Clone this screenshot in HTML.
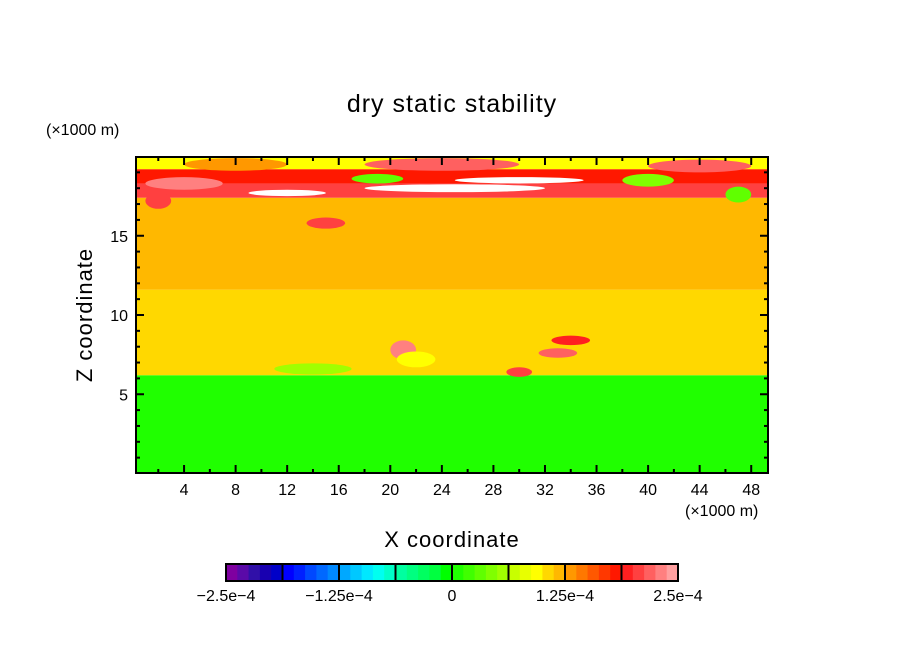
<!DOCTYPE html>
<html><head><meta charset="utf-8"><style>
body{margin:0;background:#fff;font-family:"Liberation Sans",sans-serif}
svg text{font-family:"Liberation Sans",sans-serif;fill:#000}
</style></head><body>
<svg id="chart" width="904" height="654" xmlns="http://www.w3.org/2000/svg">
<rect width="904" height="654" fill="#fff"/>
<text x="452" y="112" font-size="25" text-anchor="middle" letter-spacing="1">dry static stability</text>
<text x="46" y="135" font-size="16">(×1000 m)</text>
<text x="685" y="516" font-size="16">(×1000 m)</text>
<text x="452" y="547" font-size="22" text-anchor="middle" letter-spacing="1">X coordinate</text>
<text transform="translate(92,315) rotate(-90)" font-size="22" text-anchor="middle" letter-spacing="1">Z coordinate</text>
<g id="plot"></g>
<g id="cbar"></g>
</svg>
<script>
const colors=["#7F00A0","#5A0AA8","#3010A8","#1800B0","#0000C8","#0000FF","#0020FF","#0048FF","#0068FF","#0088FF","#00A8FF","#00C8FF","#00E8FF","#00FFF0","#00FFC8","#00FFA0","#00FF80","#00FF60","#00FF40","#00FF00","#20FF00","#40FF00","#60FF00","#80FF00","#A0FF00","#C8FF00","#E8FF00","#FFFF00","#FFD800","#FFB800","#FF9800","#FF7800","#FF5800","#FF3800","#FF1800","#FF2020","#FF4040","#FF6060","#FF8080","#FFA0A0"];
const cbarLabels=["-2.5e-4","-1.25e-4","0","1.25e-4","2.5e-4"];
const cbarTickValues=[-2.5e-4,-1.25e-4,0,1.25e-4,2.5e-4];
const xTicks=[4,8,12,16,20,24,28,32,36,40,44,48];
const yTicks=[5,10,15];
// layers: [zBottom, zTop, value]
const layerBottom=[0,6.2,11.6,17.4,18.3,19.2];
const layerTop=[6.2,11.6,17.4,18.3,19.2,20];
const layerValue=[0.06e-4,1.06e-4,1.19e-4,2.06e-4,1.81e-4,0.94e-4];
// features: [xCenter, zCenter, halfWidth(km), halfHeight(km), value]
const blobX=[25,12,30,4,15,21,22,30,33,34,19,40,47,2,14,24,44,8];
const blobZ=[18.0,17.7,18.5,18.3,15.8,7.8,7.2,6.4,7.6,8.4,18.6,18.5,17.6,17.2,6.6,19.5,19.4,19.5];
const blobW=[7,3,5,3,1.5,1,1.5,1,1.5,1.5,2,2,1,1,3,6,4,4];
const blobH=[0.25,0.2,0.2,0.4,0.35,0.6,0.5,0.3,0.3,0.3,0.3,0.4,0.5,0.5,0.35,0.4,0.4,0.4];
const blobV=[2.6e-4,2.6e-4,2.6e-4,2.3e-4,2.1e-4,2.3e-4,0.9e-4,2.1e-4,2.2e-4,1.9e-4,0.3e-4,0.4e-4,0.3e-4,2.1e-4,0.6e-4,2.2e-4,2.2e-4,1.3e-4];

const X0=136,X1=768,Y0=473,Y1=157;
const xs=v=>132.5+v*12.89;
const ys=v=>473.5-v*15.85;
const zmin=-2.5e-4,zmax=2.5e-4;
function col(v){if(v>2.5e-4)return "#FFFFFF";let i=Math.floor((v-zmin)/(zmax-zmin)*40);i=Math.max(0,Math.min(39,i));return colors[i];}
const NS="http://www.w3.org/2000/svg";
function mk(t,a,p){const e=document.createElementNS(NS,t);for(const k in a)e.setAttribute(k,a[k]);p.appendChild(e);return e;}
const plot=document.getElementById('plot');
const cp=mk('clipPath',{id:'cp'},plot);mk('rect',{x:X0,y:Y1,width:X1-X0,height:Y0-Y1},cp);
const field=mk('g',{'clip-path':'url(#cp)'},plot);


layerBottom.forEach((b,i)=>{
  const r=mk('rect',{x:X0,y:ys(layerTop[i]),width:X1-X0,height:ys(b)-ys(layerTop[i]),fill:col(layerValue[i])},field);
  
  
});
blobX.forEach((bx,i)=>{
  const e=mk('ellipse',{cx:xs(bx),cy:ys(blobZ[i]),rx:blobW[i]*12.89,ry:blobH[i]*15.85,fill:col(blobV[i])},field);
  
  
});
const frame=mk('rect',{x:X0,y:Y1,width:X1-X0,height:Y0-Y1,fill:'none',stroke:'#000','stroke-width':2},plot);


for(let v=2;v<=48;v+=2){const L=xTicks.includes(v)?8:4;const x=xs(v);
  mk('line',{x1:x,x2:x,y1:Y0,y2:Y0-L,stroke:'#000','stroke-width':2},plot);
  mk('line',{x1:x,x2:x,y1:Y1,y2:Y1+L,stroke:'#000','stroke-width':2},plot);}
for(let v=1;v<=19;v++){const L=yTicks.includes(v)?8:4;const y=ys(v);
  mk('line',{x1:X0,x2:X0+L,y1:y,y2:y,stroke:'#000','stroke-width':2},plot);
  mk('line',{x1:X1,x2:X1-L,y1:y,y2:y,stroke:'#000','stroke-width':2},plot);}
xTicks.forEach(v=>{const t=mk('text',{x:xs(v),y:495,'font-size':16,'text-anchor':'middle'},plot);t.textContent=v;
  
  });
yTicks.forEach(v=>{const t=mk('text',{x:128,y:ys(v)+6,'font-size':16,'text-anchor':'end'},plot);t.textContent=v;
  
  });
const cb=document.getElementById('cbar');


const CX0=226,CX1=678,CY=564,CH=17,bw=(CX1-CX0)/40;
colors.forEach((c,i)=>{const r=mk('rect',{x:CX0+i*bw,y:CY,width:bw+0.5,height:CH,fill:c},cb);
  
  });
for(let g=0;g<=8;g++)mk('line',{x1:CX0+g*5*bw,x2:CX0+g*5*bw,y1:CY,y2:CY+CH,stroke:'#000','stroke-width':2},cb);
mk('rect',{x:CX0,y:CY,width:CX1-CX0,height:CH,fill:'none',stroke:'#000','stroke-width':2},cb);
cbarTickValues.forEach((v,i)=>{const x=CX0+(v-zmin)/(zmax-zmin)*(CX1-CX0);
  const t=mk('text',{x:x,y:601,'font-size':16,'text-anchor':'middle'},cb);t.textContent=cbarLabels[i].replace(/-/g,'−');
  
  });
</script>
</body></html>
